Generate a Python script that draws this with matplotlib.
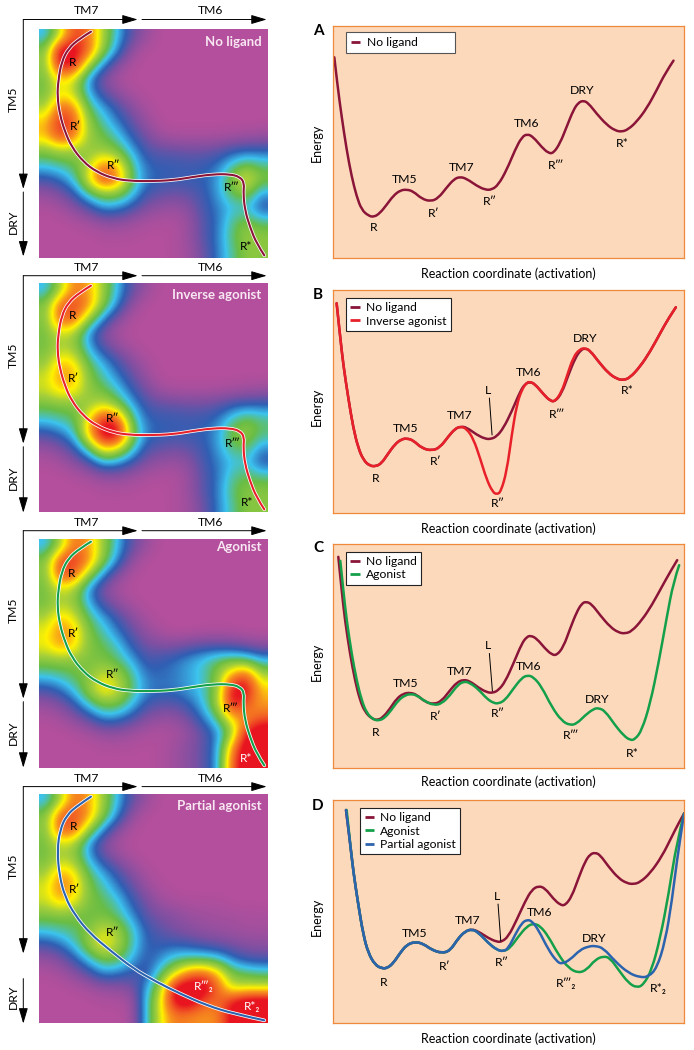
import numpy as np
import matplotlib
matplotlib.use('Agg')
import matplotlib.pyplot as plt
from matplotlib.colors import LinearSegmentedColormap
from matplotlib.path import Path
from matplotlib.patches import PathPatch

plt.rcParams['font.family'] = ['Lato', 'DejaVu Sans']

# ---- energy curves, x = reaction coordinate, y = energy (arbitrary units)
a_none_x = [103,113,125,140,155,170,185,205,222,240,260,280,300,320,340,365,392,415,440,462,480,500,530,555,575,595,620,645,665,682,700,725,745,760,780,800,820,835,850,865,890,920,945,965,985,1010,1040,1070,1095,1120]
a_none_y = [828,740,650,550,470,410,370,352,348,360,385,412,428,431,425,403,395,405,437,462,469,463,442,430,430,445,490,550,588,598,588,558,540,540,570,620,670,692,698,690,658,625,608,604,612,635,675,730,780,818]

b_none_x = [110,120,130,145,160,175,190,208,228,245,262,285,305,322,340,365,395,420,445,465,482,500,530,555,572,590,610,635,660,675,690,705,730,750,765,785,805,825,842,855,870,895,925,950,970,990,1020,1050,1080,1105,1127]
b_none_y = [945,850,760,660,570,510,475,457,455,465,490,522,537,539,533,510,502,512,545,568,575,572,550,538,537,545,570,620,680,703,709,702,672,652,650,675,730,780,805,810,803,770,735,718,714,722,755,800,855,900,933]
b_inv_x = [110,120,130,145,160,175,190,208,228,245,262,285,305,322,340,365,395,420,445,465,482,500,520,540,560,578,590,602,620,635,650,665,680,690,705,730,750,765,785,800,820,840,855,870,895,925,950,970,990,1020,1050,1080,1105,1127]
b_inv_y = [945,850,760,660,570,510,475,457,455,465,490,522,537,539,533,510,502,512,545,568,575,568,538,480,415,378,371,378,440,550,640,685,707,709,702,672,652,650,680,725,785,808,810,803,770,735,718,714,722,755,800,855,900,933]

c_none_x = [115,125,135,150,165,180,195,215,233,250,270,290,310,330,350,375,402,425,450,470,490,510,535,560,578,595,615,640,665,680,692,710,735,755,770,790,810,830,845,858,875,900,930,955,975,995,1025,1055,1085,1110,1131]
c_none_y = [950,850,760,660,580,520,485,465,460,470,495,525,540,543,537,515,508,518,550,573,582,577,558,544,542,550,575,630,690,710,714,705,675,657,655,680,735,785,810,816,808,775,740,723,720,727,760,805,860,905,940]
c_ago_x = [121,130,140,155,170,185,200,220,238,255,275,295,315,333,350,375,402,425,450,472,492,510,535,560,580,595,615,640,665,682,700,725,755,785,810,830,855,880,895,915,945,970,990,1005,1025,1050,1075,1100,1120,1137]
c_ago_y = [938,850,760,660,580,520,482,462,459,468,492,520,535,539,535,517,505,510,535,565,577,572,553,525,512,510,520,555,587,595,590,560,500,458,445,450,475,494,497,488,445,415,400,403,430,510,630,770,875,925]

d_none_x = [138,150,160,175,190,205,225,245,262,280,300,320,345,370,395,425,450,475,495,515,535,565,590,605,625,650,675,695,715,735,760,780,795,815,835,855,870,885,900,925,955,980,1000,1020,1050,1085,1115,1135,1152]
d_none_y = [955,860,770,670,580,525,490,479,480,495,525,550,559,553,535,525,532,570,590,597,590,570,559,559,575,625,680,715,727,720,688,670,668,695,750,800,822,827,820,785,750,735,732,738,765,815,875,915,945]
d_ago_x = [140,150,160,175,190,205,225,245,262,280,300,320,345,370,395,425,450,475,495,515,535,565,590,610,630,655,680,700,720,745,775,805,835,860,885,910,930,955,985,1010,1030,1055,1080,1105,1130,1152]
d_ago_y = [955,860,770,670,580,525,490,479,480,495,525,550,559,553,535,525,532,570,590,597,587,555,535,530,540,575,605,614,607,575,520,480,465,475,505,516,510,475,435,421,430,475,570,700,860,945]
d_part_x = [138,150,160,175,190,205,225,245,262,280,300,320,345,370,395,425,450,475,495,515,535,565,590,610,625,645,665,680,695,715,745,770,785,810,840,865,885,910,945,985,1020,1045,1070,1095,1115,1135,1152]
d_part_y = [955,860,770,670,580,525,490,479,480,495,525,550,559,553,535,525,532,570,590,597,587,555,535,530,540,580,615,625,622,595,535,500,492,505,535,545,547,540,500,465,452,454,480,560,680,840,945]

# ---- activation paths on the maps (map coordinates, y runs downwards)
path_x = [273,240,205,185,175,172,180,195,215,250,290,340,390,450,520,580,640,690,720,733,730,735,750,770,793]
path_y = [95,115,145,185,240,290,345,395,440,485,515,535,542,543,540,530,522,522,530,548,580,630,680,730,765]
path2_x = [273,235,200,180,172,178,195,225,270,330,400,470,540,620,700,793]
path2_y = [95,120,150,195,255,330,395,450,505,555,610,650,685,720,745,765]

# ---- maps, population level 0 (purple) .. 9 (red), 16 x 16
map_a = [
 [2.8,5.5,8.5,7.5,5,2.9,1.4,.5,0,0,0,0,0,0,0,0],
 [4.4,10,9.5,7.8,4.6,2.4,.6,0,0,0,0,0,0,0,0,0],
 [4.6,9.5,9,5,2.4,.8,.1,0,0,0,0,0,0,0,0,0],
 [4.2,6.4,5.4,2.4,.9,.2,0,0,0,0,0,0,0,0,0,0],
 [4.2,6,5.2,2.8,1.5,.7,.2,0,0,0,0,0,0,0,0,0],
 [5,8,7.1,3.8,2.7,1.7,.8,.2,0,0,0,0,0,0,0,0],
 [6.5,9,8,4.6,3.4,2.3,1.4,.5,0,0,0,0,0,0,0,0],
 [6.5,8.5,7.3,4.8,4.1,3.2,1.9,1.1,.4,.2,.2,.2,.2,.3,.4,.5],
 [4.4,5,4.8,4.6,4.8,4.2,2.8,1.6,1.4,1.3,1.2,1.2,1.4,1.8,2,2],
 [3.2,3.5,4,5.2,7.5,6.5,3.6,2.1,1.9,1.9,1.8,1.9,2.2,3.3,4.2,3.6],
 [1.7,2.2,3.2,6,8.8,7.5,4,2.3,2,1.9,1.9,2,2.6,4.6,6,4.4],
 [.6,1,1.9,3.6,4.6,4.5,3.2,1.7,1.4,1.2,1.4,1.8,2.6,4,4.6,2.6],
 [.1,.3,.8,1.5,2.6,2.4,1.7,.9,.6,.5,.8,1.7,2.3,3,3.1,1.7],
 [0,0,.1,.3,.6,.7,.4,.2,.1,.1,.5,1.5,2.2,3.6,4.4,3.7],
 [0,0,0,0,.1,.1,.1,0,0,.1,.5,1.5,2.3,3.8,4.8,4.6],
 [0,0,0,0,0,0,0,0,0,.1,.4,1.2,2.3,3.5,4.6,4.5],
]
map_b = [
 [2.8,5,7.5,6.8,4.8,2.9,1.4,.5,0,0,0,0,0,0,0,0],
 [4.4,7.8,8.5,7.2,4.5,2.4,.6,0,0,0,0,0,0,0,0,0],
 [4.4,8.2,7.8,4.8,2.4,.8,.1,0,0,0,0,0,0,0,0,0],
 [4.2,5.6,4.9,2.4,.9,.2,0,0,0,0,0,0,0,0,0,0],
 [4.2,5,4.7,2.8,1.5,.7,.2,0,0,0,0,0,0,0,0,0],
 [4.6,6.6,6,3.8,2.7,1.7,.8,.2,0,0,0,0,0,0,0,0],
 [5.4,7.2,6.8,4.4,3.4,2.3,1.4,.5,0,0,0,0,0,0,0,0],
 [5.4,6.4,6,4.6,4.1,3.2,1.9,1.1,.4,.2,.2,.2,.2,.3,.4,.5],
 [4.2,4.4,4.4,4.8,5.5,4.4,2.8,1.6,1.4,1.3,1.2,1.2,1.4,1.8,2,2],
 [3.2,3.5,3.9,6,9,8,3.8,2.1,1.9,1.9,1.8,1.9,2.2,3.3,4.2,3.6],
 [1.7,2.2,3.2,6.8,10,10,4.6,2.3,2,1.9,1.9,2,2.6,4.4,4.8,3.8],
 [.6,1,1.9,4,6.8,6,3.6,1.7,1.4,1.2,1.4,1.8,2.6,3.8,4,2.5],
 [.1,.3,.8,1.5,3,2.7,1.8,.9,.6,.5,.8,1.7,2.3,3,3.1,1.7],
 [0,0,.1,.3,.6,.7,.4,.2,.1,.1,.5,1.5,2.2,3.5,4,3.6],
 [0,0,0,0,.1,.1,.1,0,0,.1,.5,1.5,2.3,3.8,4.5,4.5],
 [0,0,0,0,0,0,0,0,0,.1,.4,1.2,2.3,3.5,4.5,4.5],
]
map_c = [
 [2.8,5,7.7,6.8,4.8,2.9,1.4,.5,0,0,0,0,0,0,0,0],
 [4.4,8.3,8.8,7.2,4.5,2.4,.6,0,0,0,0,0,0,0,0,0],
 [4.4,8.4,7.8,4.8,2.4,.8,.1,0,0,0,0,0,0,0,0,0],
 [4.2,5.6,4.9,2.4,.9,.2,0,0,0,0,0,0,0,0,0,0],
 [4.2,5,4.7,2.8,1.5,.7,.2,0,0,0,0,0,0,0,0,0],
 [5,6.6,5.6,3.8,2.7,1.7,.8,.2,0,0,0,0,0,0,0,0],
 [5.8,7.4,6.6,4.3,3.4,2.3,1.4,.6,.2,0,0,.1,.1,.1,0,0],
 [5.8,7,6.2,4.4,4,3.2,1.9,1.2,1,1,1.3,1.5,1.5,1.4,1.1,.8],
 [4.5,4.6,4.5,4.3,4.3,3.8,2.8,1.7,1.9,2.2,2.7,3.2,3.9,4.2,4,3],
 [3.2,3.5,4,4.4,5.6,5,3.6,2.2,2.1,2.3,2.7,3.2,4.5,7,8.2,5],
 [1.7,2.2,3.2,4.8,6.4,5.6,3.8,2.5,2.2,2.3,2.7,3.2,4.6,9.5,9.5,6.4],
 [.6,1,1.9,3.4,4.4,4.3,3.1,1.8,1.5,1.5,2,3,5,9.5,8,6.8],
 [.1,.3,.8,1.5,2.6,2.4,1.7,.9,.6,.6,1.2,2.3,3.8,6.5,7,8],
 [0,0,.1,.3,.6,.7,.4,.2,.1,.2,.6,1.4,2.4,4.6,9,10],
 [0,0,0,0,.1,.1,.1,0,.1,.4,.8,1.4,2.6,7,10,10],
 [0,0,0,0,0,0,0,0,.1,.4,.8,1.4,2.6,8,10,10],
]
map_d = [
 [2.8,5,7.7,6.8,4.8,2.9,1.4,.5,0,0,0,0,0,0,0,0],
 [4.4,8,8.4,7,4.5,2.4,.6,0,0,0,0,0,0,0,0,0],
 [4.4,8.2,7.8,4.8,2.4,.8,.1,0,0,0,0,0,0,0,0,0],
 [4.2,5.4,4.9,2.4,.9,.2,0,0,0,0,0,0,0,0,0,0],
 [4.2,5,4.7,2.8,1.5,.7,.2,0,0,0,0,0,0,0,0,0],
 [4.8,7,6,3.8,2.7,1.7,.8,.2,0,0,0,0,0,0,0,0],
 [5.6,7.6,6.6,4.3,3.4,2.3,1.4,.5,.1,0,0,0,0,0,0,0],
 [5.4,6.6,5.8,4.3,4,3.2,1.9,1.1,.4,.2,.1,.1,.1,0,0,0],
 [4.3,4.4,4.2,4,4.2,3.7,2.5,1.4,1,.8,.5,.4,.3,.3,.2,.2],
 [3.2,3.5,3.8,4.4,5.6,4.9,3.4,1.9,1.4,1,.8,.6,.5,.4,.3,.3],
 [1.7,2.2,3.2,4.8,6.2,5.2,3.5,2,1.9,1.9,1.7,1.4,1.2,1,.8,.7],
 [.6,1,1.9,3.2,4.3,4.1,2.9,1.8,2.4,3.3,3.5,3.5,3.2,2.2,1.6,1.5],
 [.1,.3,.8,1.5,2.6,2.3,1.8,1.6,3.6,5.5,7.5,7.8,6.5,4.2,3.8,3.5],
 [0,0,.1,.3,.6,.7,1,2.6,5,9.5,10,10,7.8,5.2,5.4,5.4],
 [0,0,0,0,.1,.1,.3,3,5.8,9.5,10,8,7.6,9,10,10],
 [0,0,0,0,0,0,.2,3,5.8,7.5,7.2,7,7.2,9.5,10,10],
]

map_titles = ['No ligand', 'Inverse agonist', 'Agonist', 'Partial agonist']
map_title_y = [125, 123, 110, 122]
map_labels = [
 [('R',217,187,'k'),('R\u2032',227,378,'k'),('R\u2033',340,497,'k'),('R\u2034',695,563,'k'),('R*',738,738,'k')],
 [('R',218,185,'k'),('R\u2032',221,372,'k'),('R\u2033',338,494,'k'),('R\u2034',697,569,'k'),('R*',741,745,'k')],
 [('R',215,190,'k'),('R\u2032',220,369,'k'),('R\u2033',338,493,'k'),('R\u2034',693,595,'k'),('R*',737,745,'w')],
 [('R',222,184,'k'),('R\u2032',225,373,'k'),('R\u2033',339,502,'k'),('R\u2034\u2082',611,663,'w'),('R*\u2082',757,723,'w')],
]

curve_labels = [
 [('R',222,316),('TM5',315,460),('R\u2032',402,360),('TM7',484,498),('R\u2033',570,395),('TM6',680,630),('R\u2034',768,502),('DRY',845,728),('R*',968,570)],
 [('R',226,420),('TM5',318,570),('R\u2032',408,470),('TM7',478,607),('L',565,682),('R\u2033',592,343),('TM6',685,738),('R\u2034',770,612),('DRY',855,840),('R*',982,683)],
 [('R',226,423),('TM5',318,570),('R\u2032',408,470),('TM7',478,607),('L',565,683),('R\u2033',592,480),('TM6',685,622),('R\u2034',812,415),('DRY',892,522),('R*',998,360)],
 [('R',252,438),('TM5',344,583),('R\u2032',433,485),('TM7',503,622),('L',591,695),('R\u2033',606,497),('TM6',718,648),('R\u2034\u2082',798,435),('DRY',883,570),('R*\u2082',1075,418)],
]
l_lines = [None, ([568,576],[660,550]), ([568,577],[660,548]), ([594,602],[672,562])]

dark_red = '#8a1538'
red = '#e8202a'
green = '#14a04a'
blue = '#2b63ae'

curves = [
 [(a_none_x, a_none_y, dark_red, 'No ligand')],
 [(b_none_x, b_none_y, dark_red, 'No ligand'), (b_inv_x, b_inv_y, red, 'Inverse agonist')],
 [(c_none_x, c_none_y, dark_red, 'No ligand'), (c_ago_x, c_ago_y, green, 'Agonist')],
 [(d_none_x, d_none_y, dark_red, 'No ligand'), (d_ago_x, d_ago_y, green, 'Agonist'), (d_part_x, d_part_y, blue, 'Partial agonist')],
]
map_data = [map_a, map_b, map_c, map_d]
map_paths = [(path_x, path_y, dark_red), (path_x, path_y, red), (path_x, path_y, green), (path2_x, path2_y, blue)]

W, H = 694, 1050
arrow_y = [19.5, 275.7, 530.7, 786.6]
map_top = [29, 283, 539, 794]
chart_top = [26, 290, 543.5, 800]
chart_bot = [258, 513, 768, 1023]
energy_lim = [(225, 922), (315, 985), (317, 990), (315, 985)]
xlabel_y = [274, 529, 782, 1039]
energy_label_y = [143, 407, 662, 917]
letter_y = [31, 295, 548, 806]
legend_box = [(138, 97, 465), (138, 38, None), (138, 34, None), (181, 38, None)]
dry_end = [169.5, 168, 168, 167]
dry_start = [172.5, 171, 171, 192]
dry_label = [202, 202, 202, 210]

colors = ['#b34f9c', '#7d4fa2', '#2f5fb3', '#3cc3ee', '#69bd45', '#a5cf3a', '#fff200', '#f7941d', '#f15a24', '#e8141f']
cmap = LinearSegmentedColormap.from_list('pop', list(zip(np.linspace(0, 1, 10), colors)))


def smooth(xs, ys):
    p = np.column_stack([xs, ys]).astype(float)
    verts = [p[0]]
    codes = [Path.MOVETO]
    for i in range(1, len(p) - 2):
        verts += [p[i], (p[i] + p[i + 1]) / 2]
        codes += [Path.CURVE3, Path.CURVE3]
    verts += [p[-2], p[-1]]
    codes += [Path.CURVE3, Path.CURVE3]
    return Path(verts, codes)


def axes_px(l, t, r, b):
    return fig.add_axes([l / W, 1 - b / H, (r - l) / W, (b - t) / H])


fig = plt.figure(figsize=(W / 100, H / 100), dpi=100)
over = fig.add_axes([0, 0, 1, 1], zorder=5)
over.set_xlim(0, W)
over.set_ylim(H, 0)
over.axis('off')

for k in range(4):
    # map
    ax = axes_px(39.3, map_top[k], 268.3, map_top[k] + 229)
    ax.imshow(map_data[k], cmap=cmap, vmin=0, vmax=9, extent=(118, 805, 773, 87),
              interpolation='bicubic', interpolation_stage='data', aspect='auto')
    ax.axis('off')
    px, py, pc = map_paths[k]
    ax.add_patch(PathPatch(smooth(px, py), fill=False, ec='white', lw=2.6, capstyle='round'))
    ax.add_patch(PathPatch(smooth(px, py), fill=False, ec=pc, lw=1.5, capstyle='round'))
    ax.set_xlim(118, 805)
    ax.set_ylim(773, 87)
    ax.text(785, map_title_y[k], map_titles[k], color='#f8e6f2', fontsize=9.5, fontweight='bold',
            ha='right', va='center')
    for txt, x, y, c in map_labels[k]:
        ax.text(x, y, txt, color=c, fontsize=8.5, ha='center', va='center')

    # arrows and axis words of the map
    y0 = arrow_y[k]
    ap = dict(arrowstyle='-|>,head_width=0.28,head_length=0.95', color='k', lw=0.7, shrinkA=0, shrinkB=0)
    over.annotate('', xy=(137.7, y0), xytext=(23.3, y0), arrowprops=ap)
    over.annotate('', xy=(266.7, y0), xytext=(142, y0), arrowprops=ap)
    over.annotate('', xy=(23.3, y0 + dry_end[k]), xytext=(23.3, y0), arrowprops=ap)
    over.annotate('', xy=(23.3, y0 + 237), xytext=(23.3, y0 + dry_start[k]), arrowprops=ap)
    over.text(87, y0 - 8.5, 'TM7', fontsize=8.7, ha='center', va='center')
    over.text(211, y0 - 8.5, 'TM6', fontsize=8.7, ha='center', va='center')
    over.text(13, y0 + 80, 'TM5', fontsize=8.7, rotation=90, ha='center', va='center')
    over.text(13, y0 + dry_label[k], 'DRY', fontsize=8.7, rotation=90, ha='center', va='center')

    # energy chart
    ax = axes_px(333.3, chart_top[k], 683.5, chart_bot[k])
    ax.set_facecolor('#fdd9bb')
    for s in ax.spines.values():
        s.set_color('#ef8a3c')
        s.set_linewidth(0.9)
    ax.set_xticks([])
    ax.set_yticks([])
    ax.set_xlim(100, 1150)
    ax.set_ylim(*energy_lim[k])
    handles = []
    for cx, cy, c, name in curves[k]:
        ax.add_patch(PathPatch(smooth(cx, cy), fill=False, ec=c, lw=1.8, capstyle='round'))
        handles.append(plt.Line2D([], [], color=c, lw=2, solid_capstyle='butt', label=name))
    for txt, x, y in curve_labels[k]:
        ax.text(x, y, txt, fontsize=8.8, ha='center', va='center')
    if l_lines[k] is not None:
        ax.plot(l_lines[k][0], l_lines[k][1], color='k', lw=0.7)

    # legend, box anchored by its upper left corner
    lx, ly, rx = legend_box[k]
    top_val = energy_lim[k][1] - (ly - (78 if k == 0 else 15 if k != 2 else 10))
    anchor_y = (top_val - energy_lim[k][0]) / (energy_lim[k][1] - energy_lim[k][0])
    anchor_x = (lx - 100) / 1050
    if rx is None:
        leg = ax.legend(handles=handles, loc='upper left', bbox_to_anchor=(anchor_x, anchor_y),
                        borderaxespad=0, fontsize=8.7, handlelength=0.8, handletextpad=0.5,
                        labelspacing=0.22, borderpad=0.35, fancybox=False, framealpha=1,
                        edgecolor='#222222', facecolor='white')
    else:
        leg = ax.legend(handles=handles, loc='upper left',
                        bbox_to_anchor=(anchor_x, anchor_y, (rx - lx) / 1050, 0), mode='expand',
                        borderaxespad=0, fontsize=8.7, handlelength=0.8, handletextpad=0.5,
                        borderpad=0.4, fancybox=False, framealpha=1,
                        edgecolor='#555555', facecolor='white')
    leg.get_frame().set_linewidth(0.8)

    over.text(317, energy_label_y[k], 'Energy', fontsize=9, rotation=90,
              ha='center', va='center')
    over.text(508, xlabel_y[k], 'Reaction coordinate (activation)', fontsize=9, ha='center', va='center')
    over.text(318, letter_y[k], 'ABCD'[k], fontsize=11, fontweight='bold', ha='center', va='center')

fig.savefig('out.png', dpi=100)
